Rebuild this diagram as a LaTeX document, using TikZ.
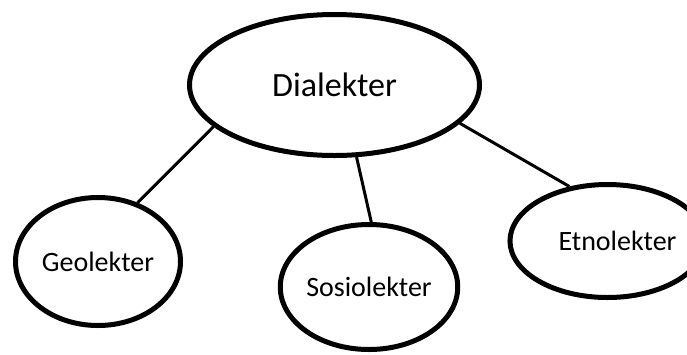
\documentclass[tikz,border=0pt]{standalone}
\usepackage{fontspec}
\setmainfont{Carlito}
\usetikzlibrary{shapes.geometric}
\begin{document}
\begin{tikzpicture}[x=1pt,y=-1pt,
  bubble/.style={draw=black, ellipse, line width=5pt, inner sep=0pt, fill=white},
  link/.style={draw=black, line width=3pt}]
\useasboundingbox (0,0) rectangle (687,354);
\node[bubble, minimum width=290pt, minimum height=141pt, font=\fontsize{34}{40}\selectfont] (dia) at (334.5,85) {Dialekter};
\node[bubble, minimum width=165pt, minimum height=128pt, font=\fontsize{28}{33}\selectfont] (geo) at (98,261.5) {Geolekter};
\node[bubble, minimum width=163pt, minimum height=125pt, font=\fontsize{28}{33}\selectfont] (sos) at (369,287) {Sosiolekter};
\node[bubble, minimum width=154pt, minimum height=113pt, font=\fontsize{28}{33}\selectfont] (etn) at (607.5,241) {\hspace*{20pt}Etnolekter};
\draw[link] (dia.199) -- (geo.56);
\draw[link] (dia.287) -- (sos.88);
\draw[link] (dia.343) -- (etn.125);
\end{tikzpicture}
\end{document}
